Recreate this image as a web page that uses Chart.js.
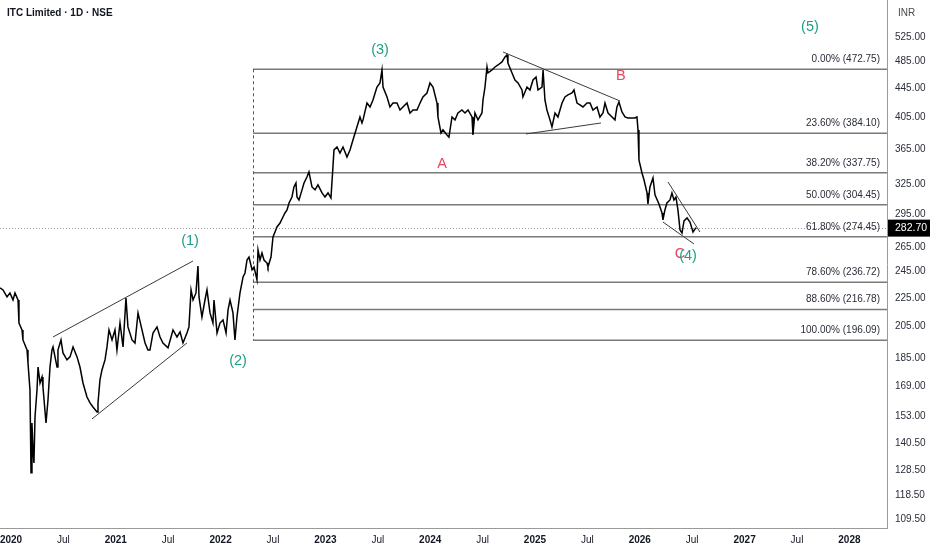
<!DOCTYPE html>
<html>
<head>
<meta charset="utf-8">
<script src="https://cdn.jsdelivr.net/npm/chart.js@4.4.1/dist/chart.umd.min.js"></script>
<style>
  html, body { margin: 0; padding: 0; background: #fff; }
  #wrap { width: 932px; height: 550px; }
</style>
</head>
<body>
<div id="wrap"><canvas id="chart" width="932" height="550"></canvas></div>
<script>
// Daily closes (dates as decimal years)
const dates = [
  2019.895, 2019.924, 2019.962, 2019.990, 2020.019, 2020.038, 2020.067, 2020.076, 2020.105, 2020.114,
  2020.153, 2020.162, 2020.181, 2020.191, 2020.200, 2020.210, 2020.219, 2020.229, 2020.248, 2020.258,
  2020.277, 2020.296, 2020.305, 2020.334, 2020.353, 2020.372, 2020.391, 2020.401, 2020.420, 2020.439,
  2020.448, 2020.477, 2020.496, 2020.534, 2020.563, 2020.592, 2020.630, 2020.658, 2020.687, 2020.725,
  2020.754, 2020.782, 2020.821, 2020.830, 2020.849, 2020.868, 2020.897, 2020.916, 2020.935, 2020.964,
  2020.992, 2021.011, 2021.040, 2021.069, 2021.097, 2021.116, 2021.155, 2021.183, 2021.212, 2021.250,
  2021.279, 2021.307, 2021.326, 2021.355, 2021.393, 2021.422, 2021.450, 2021.498, 2021.546, 2021.584,
  2021.613, 2021.641, 2021.679, 2021.698, 2021.718, 2021.737, 2021.765, 2021.784, 2021.794, 2021.822,
  2021.851, 2021.870, 2021.899, 2021.927, 2021.937, 2021.966, 2021.994, 2022.023, 2022.052, 2022.071,
  2022.090, 2022.118, 2022.137, 2022.156, 2022.185, 2022.214, 2022.233, 2022.252, 2022.271, 2022.300,
  2022.319, 2022.347, 2022.357, 2022.376, 2022.395, 2022.414, 2022.443, 2022.452, 2022.481, 2022.500,
  2022.519, 2022.538, 2022.567, 2022.595, 2022.614, 2022.634, 2022.653, 2022.681, 2022.700, 2022.719,
  2022.729, 2022.748, 2022.777, 2022.796, 2022.824, 2022.843, 2022.872, 2022.901, 2022.929, 2022.968,
  2022.996, 2023.025, 2023.053, 2023.072, 2023.082, 2023.111, 2023.139, 2023.168, 2023.206, 2023.235,
  2023.263, 2023.301, 2023.330, 2023.349, 2023.359, 2023.397, 2023.426, 2023.454, 2023.492, 2023.521,
  2023.540, 2023.550, 2023.588, 2023.616, 2023.645, 2023.683, 2023.712, 2023.740, 2023.779, 2023.807,
  2023.836, 2023.874, 2023.903, 2023.931, 2023.969, 2023.998, 2024.027, 2024.065, 2024.074, 2024.103,
  2024.122, 2024.160, 2024.179, 2024.208, 2024.237, 2024.265, 2024.303, 2024.332, 2024.361, 2024.399,
  2024.408, 2024.427, 2024.456, 2024.494, 2024.504, 2024.523, 2024.542, 2024.551, 2024.590, 2024.618,
  2024.647, 2024.685, 2024.714, 2024.733, 2024.742, 2024.781, 2024.809, 2024.838, 2024.876, 2024.885,
  2024.924, 2024.952, 2024.981, 2025.010, 2025.029, 2025.067, 2025.077, 2025.095, 2025.114, 2025.143,
  2025.162, 2025.191, 2025.219, 2025.258, 2025.286, 2025.315, 2025.353, 2025.372, 2025.401, 2025.429,
  2025.458, 2025.496, 2025.525, 2025.553, 2025.592, 2025.620, 2025.649, 2025.668, 2025.697, 2025.735,
  2025.763, 2025.782, 2025.801, 2025.830, 2025.859, 2025.887, 2025.926, 2025.954, 2025.973, 2025.983,
  2025.992, 2026.021, 2026.040, 2026.069, 2026.078, 2026.097, 2026.126, 2026.145, 2026.183, 2026.212,
  2026.221, 2026.240, 2026.259, 2026.288, 2026.307, 2026.326, 2026.345, 2026.364, 2026.384, 2026.403,
  2026.422, 2026.451, 2026.479, 2026.508, 2026.536
];
const closes = [
  232.4, 230.9, 225.7, 228.7, 223.5, 228.7, 223.5, 207.4, 202.8, 196.3,
  190.0, 182.2, 166.9, 127.5, 149.9, 137.3, 131.7, 152.9, 166.9, 179.8,
  170.7, 174.1, 168.5, 149.9, 161.5, 179.8, 190.0, 191.9, 185.8, 179.8,
  190.0, 196.3, 188.2, 184.0, 185.8, 191.9, 185.8, 179.8, 170.7, 163.1,
  160.0, 157.9, 155.4, 160.0, 172.4, 178.1, 184.0, 191.9, 202.8, 196.3,
  202.8, 190.0, 207.4, 191.9, 225.0, 204.8, 196.3, 194.4, 214.3, 202.8,
  194.4, 190.0, 190.0, 200.8, 204.8, 198.2, 194.4, 191.3, 202.8, 198.2,
  201.5, 194.4, 200.8, 204.8, 230.9, 223.5, 228.7, 249.6, 225.7, 211.5,
  223.5, 230.9, 214.3, 207.4, 223.5, 200.8, 207.4, 209.5, 200.8, 216.4,
  223.5, 214.3, 196.3, 211.5, 228.7, 240.8, 244.0, 254.5, 257.0, 246.6,
  248.8, 238.7, 262.9, 254.5, 260.4, 254.5, 252.0, 248.8, 257.0, 274.2,
  278.7, 283.3, 287.0, 292.6, 296.5, 299.4, 306.3, 312.3, 322.6, 326.8,
  312.3, 309.3, 319.6, 326.8, 333.2, 338.7, 322.6, 319.6, 324.8, 316.4,
  312.3, 316.4, 311.3, 344.2, 363.8, 367.3, 360.2, 367.3, 355.6, 363.8,
  375.8, 392.0, 404.9, 397.1, 401.1, 423.7, 418.3, 427.9, 446.3, 452.2,
  471.7, 446.3, 432.1, 418.3, 423.7, 423.7, 414.2, 418.3, 423.7, 410.2,
  414.2, 414.2, 423.7, 432.1, 437.7, 452.2, 446.3, 423.7, 404.9, 384.4,
  388.3, 382.0, 379.4, 404.9, 401.1, 410.2, 414.2, 410.2, 414.2, 404.9,
  382.0, 410.2, 401.1, 410.2, 427.9, 446.3, 476.3, 467.1, 471.7, 476.3,
  479.4, 484.1, 492.0, 495.2, 482.5, 467.1, 456.6, 452.2, 442.0, 432.1,
  446.3, 442.0, 456.6, 461.1, 442.0, 446.3, 471.7, 427.9, 414.2, 401.1,
  392.0, 410.2, 404.9, 423.7, 432.1, 435.0, 437.7, 442.0, 423.7, 421.1,
  418.3, 423.7, 423.7, 414.2, 418.3, 404.9, 410.2, 423.7, 410.2, 404.9,
  401.1, 418.3, 425.1, 411.5, 404.9, 403.6, 403.6, 403.6, 404.9, 388.3,
  352.3, 337.6, 330.2, 316.4, 305.3, 322.6, 332.2, 314.4, 305.3, 296.5,
  290.0, 299.4, 306.3, 309.3, 316.4, 309.3, 312.3, 299.4, 280.6, 277.8,
  288.9, 291.7, 287.9, 278.7, 282.7
];

const priceTicks = [109.5, 118.5, 128.5, 140.5, 153, 169, 185, 205, 225, 245, 265, 295, 325, 365, 405, 445, 485, 525];
const timeTicks = [2020, 2020.5, 2021, 2021.5, 2022, 2022.5, 2023, 2023.5, 2024, 2024.5,
  2025, 2025.5, 2026, 2026.5, 2027, 2027.5, 2028];

// Fibonacci retracement
const fibPercents = ['0.00%', '23.60%', '38.20%', '50.00%', '61.80%', '78.60%', '88.60%', '100.00%'];
const fibPrices = [472.75, 384.10, 337.75, 304.45, 274.45, 236.72, 216.78, 196.09];
const fibStart = 2022.309;
const lastPrice = 282.70;

// Drawn trend lines: [date1, price1, date2, price2]
const trendLines = [
  [2020.401, 198.2, 2021.737, 253.7],
  [2020.773, 151.9, 2021.679, 194.4],
  [2024.695, 500.0, 2025.811, 426.5],
  [2024.914, 383.2, 2025.630, 397.1],
  [2026.269, 327.9, 2026.574, 278.7],
  [2026.221, 287.9, 2026.517, 268.1]
];

// Elliott wave labels
const waveLabels = ['(1)', '(2)', '(3)', 'A', 'B', 'C', '(4)', '(5)'];
const waveDates = [2021.708, 2022.166, 2023.521, 2024.113, 2025.820, 2026.384, 2026.460, 2027.624];
const wavePrices = [270.7, 183.6, 503.3, 347.6, 462.6, 259.5, 257.8, 542.3];

const FONT = '"Liberation Sans", Arial, sans-serif';
const GREEN = '#1f9d86';
const RED = '#e5475f';

const overlay = {
    id: 'overlay',
    beforeDatasetsDraw(chart) {
        const { ctx, chartArea: a, scales: { x, y } } = chart;
        ctx.save();

        // last price dotted line
        const py = Math.round(y.getPixelForValue(lastPrice)) + 0.5;
        ctx.strokeStyle = '#9a9a9a';
        ctx.lineWidth = 1;
        ctx.setLineDash([1, 2]);
        ctx.beginPath();
        ctx.moveTo(a.left, py);
        ctx.lineTo(a.right, py);
        ctx.stroke();

        // fib levels
        const fx = x.getPixelForValue(fibStart);
        ctx.setLineDash([]);
        ctx.strokeStyle = '#7a7a7a';
        ctx.lineWidth = 1.5;
        fibPrices.forEach(p => {
            const yy = y.getPixelForValue(p);
            ctx.beginPath();
            ctx.moveTo(fx, yy);
            ctx.lineTo(a.right, yy);
            ctx.stroke();
        });

        // dashed vertical of the fib tool
        ctx.strokeStyle = '#555';
        ctx.lineWidth = 1;
        ctx.setLineDash([3, 3]);
        ctx.beginPath();
        ctx.moveTo(Math.round(fx) + 0.5, y.getPixelForValue(fibPrices[0]));
        ctx.lineTo(Math.round(fx) + 0.5, y.getPixelForValue(fibPrices[fibPrices.length - 1]));
        ctx.stroke();
        ctx.restore();
    },
    afterDatasetsDraw(chart) {
        const { ctx, chartArea: a, scales: { x, y } } = chart;
        ctx.save();

        // trend lines
        ctx.strokeStyle = '#3a3a3a';
        ctx.lineWidth = 1;
        trendLines.forEach(([d1, p1, d2, p2]) => {
            ctx.beginPath();
            ctx.moveTo(x.getPixelForValue(d1), y.getPixelForValue(p1));
            ctx.lineTo(x.getPixelForValue(d2), y.getPixelForValue(p2));
            ctx.stroke();
        });

        // fib labels
        ctx.font = '10px ' + FONT;
        ctx.fillStyle = '#2a2e39';
        ctx.textAlign = 'right';
        ctx.textBaseline = 'middle';
        fibPrices.forEach((p, i) => {
            const yy = y.getPixelForValue(p);
            ctx.fillText(`${fibPercents[i]} (${p.toFixed(2)})`, a.right - 7, yy - 10);
        });

        // wave labels
        ctx.font = '14.5px ' + FONT;
        ctx.textAlign = 'center';
        waveLabels.forEach((t, i) => {
            ctx.fillStyle = t.startsWith('(') ? GREEN : RED;
            ctx.fillText(t, x.getPixelForValue(waveDates[i]), y.getPixelForValue(wavePrices[i]));
        });
        ctx.restore();
    },
    afterDraw(chart) {
        const { ctx, chartArea: a, scales: { y } } = chart;
        ctx.save();
        ctx.textBaseline = 'middle';
        ctx.textAlign = 'left';
        ctx.fillStyle = '#131722';
        ctx.font = 'bold 10px ' + FONT;
        ctx.fillText('ITC Limited · 1D · NSE', 7, 13);

        ctx.font = '10px ' + FONT;
        ctx.fillStyle = '#4a4a4a';
        ctx.fillText('INR', a.right + 11, 13);

        // last price tag
        const py = y.getPixelForValue(lastPrice);
        ctx.fillStyle = '#000';
        ctx.fillRect(a.right + 1, py - 8, 42, 17);
        ctx.fillStyle = '#fff';
        ctx.font = '10.5px ' + FONT;
        ctx.fillText(lastPrice.toFixed(2), a.right + 8, py + 0.5);
        ctx.restore();
    }
};

// drop the label overflow padding Chart.js adds around the plot
function noOverflow(s) {
    s.paddingLeft = 0;
    s.paddingRight = 0;
    s.paddingTop = 0;
    s.paddingBottom = 0;
}

const ctx = document.getElementById('chart').getContext('2d');
new Chart(ctx, {
    type: 'line',
    data: {
        datasets: [{
            data: dates.map((d, i) => ({ x: d, y: closes[i] })),
            borderColor: '#000',
            borderWidth: 1.5,
            pointRadius: 0,
            tension: 0
        }]
    },
    options: {
        responsive: false,
        animation: false,
        devicePixelRatio: 1,
        layout: { padding: 0 },
        plugins: { legend: { display: false }, tooltip: { enabled: false } },
        scales: {
            x: {
                type: 'linear',
                min: 2019.895,
                max: 2028.359,
                grid: { display: false, drawTicks: false },
                border: { display: true, color: '#9a9a9a' },
                afterBuildTicks: s => { s.ticks = timeTicks.map(v => ({ value: v })); },
                afterFit: s => { s.height = 22; noOverflow(s); },
                ticks: {
                    autoSkip: false,
                    maxRotation: 0,
                    padding: 6,
                    color: '#131722',
                    font: c => ({
                        family: FONT,
                        size: 10,
                        weight: (c.tick && Number.isInteger(c.tick.value)) ? 'bold' : 'normal'
                    }),
                    callback: v => Number.isInteger(v) ? String(v) : 'Jul'
                }
            },
            y: {
                type: 'logarithmic',
                position: 'right',
                min: 106.6,
                max: 592,
                grid: { display: false, drawTicks: false },
                border: { display: true, color: '#9a9a9a' },
                afterBuildTicks: s => { s.ticks = priceTicks.map(v => ({ value: v })); },
                afterFit: s => { s.width = 45; noOverflow(s); },
                ticks: {
                    autoSkip: false,
                    padding: 8,
                    color: '#2a2e39',
                    font: { family: FONT, size: 10 },
                    callback: v => Number(v).toFixed(2)
                }
            }
        }
    },
    plugins: [overlay]
});
</script>
</body>
</html>
